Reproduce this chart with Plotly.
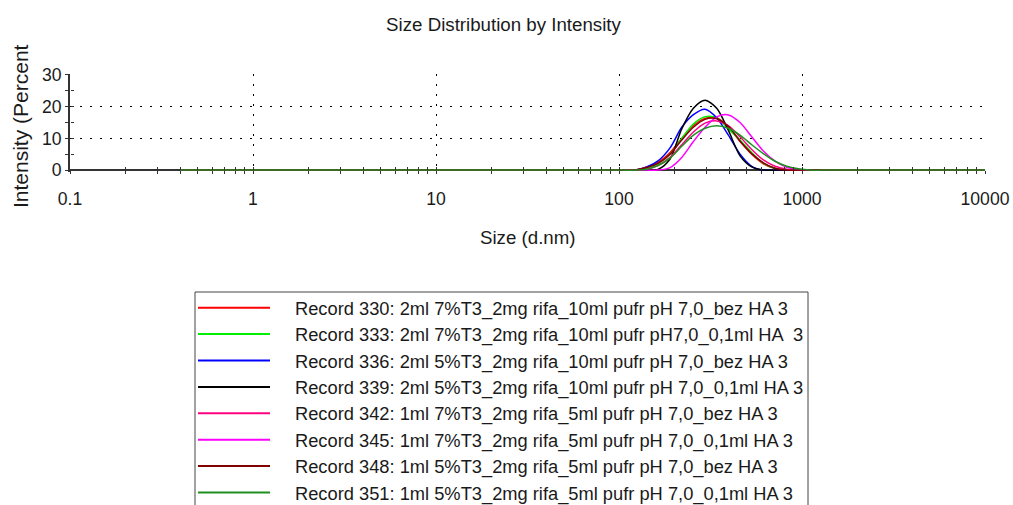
import plotly.graph_objects as go

# Size classes (d.nm) and intensity distributions (%) for each record
sizes = [0.4, 91.28, 105.7, 122.4, 141.8, 164.2, 190.1, 220.2, 255.0, 295.3,
         342.0, 396.1, 458.7, 531.2, 615.1, 712.4, 825.0, 955.4, 1106, 1281, 10000]

rec_330 = [0, 0, 0, 0, 1.0, 2.5, 5.5, 10.0, 14.0, 16.3, 16.5, 13.5, 9.0, 5.0, 2.0, 0.5, 0, 0, 0, 0, 0]
rec_333 = [0, 0, 0, 0, 0.6, 2.0, 5.0, 10.0, 14.5, 16.8, 16.5, 13.0, 9.5, 5.5, 2.2, 0.5, 0, 0, 0, 0, 0]
rec_336 = [0, 0, 0, 0, 1.0, 3.0, 7.0, 13.5, 17.5, 19.2, 16.5, 11.0, 5.0, 1.2, 0, 0, 0, 0, 0, 0, 0]
rec_339 = [0, 0, 0, 0, 0, 0.3, 3.5, 13.0, 19.5, 22.0, 19.5, 12.5, 4.5, 1.0, 0, 0, 0, 0, 0, 0, 0]
rec_342 = [0, 0, 0, 0, 0.3, 1.5, 4.0, 8.0, 12.0, 14.8, 15.5, 14.0, 10.5, 6.5, 3.2, 1.2, 0.3, 0, 0, 0, 0]
rec_345 = [0, 0, 0, 0, 0, 0, 0.8, 4.0, 9.0, 13.5, 16.8, 17.4, 15.0, 10.5, 6.0, 2.8, 0.9, 0.2, 0, 0, 0]
rec_348 = [0, 0, 0, 0, 0.8, 2.2, 5.0, 9.5, 13.5, 16.0, 16.2, 13.8, 9.2, 5.2, 2.3, 0.6, 0, 0, 0, 0, 0]
rec_351 = [0, 0, 0, 0, 0.3, 1.5, 3.8, 7.5, 11.0, 13.2, 14.0, 13.2, 11.0, 8.0, 5.2, 2.8, 1.2, 0.4, 0, 0, 0]

record_names = [
    "Record 330: 2ml 7%T3_2mg rifa_10ml pufr pH 7,0_bez HA 3",
    "Record 333: 2ml 7%T3_2mg rifa_10ml pufr pH7,0_0,1ml HA  3",
    "Record 336: 2ml 5%T3_2mg rifa_10ml pufr pH 7,0_bez HA 3",
    "Record 339: 2ml 5%T3_2mg rifa_10ml pufr pH 7,0_0,1ml HA 3",
    "Record 342: 1ml 7%T3_2mg rifa_5ml pufr pH 7,0_bez HA 3",
    "Record 345: 1ml 7%T3_2mg rifa_5ml pufr pH 7,0_0,1ml HA 3",
    "Record 348: 1ml 5%T3_2mg rifa_5ml pufr pH 7,0_bez HA 3",
    "Record 351: 1ml 5%T3_2mg rifa_5ml pufr pH 7,0_0,1ml HA 3",
]
record_values = [rec_330, rec_333, rec_336, rec_339, rec_342, rec_345, rec_348, rec_351]
record_colors = ["#ff0000", "#00ee00", "#0000ff", "#000000",
                 "#ff0080", "#ff00ff", "#800000", "#1f8f1f"]

x_tick_vals = [0.1, 1, 10, 100, 1000, 10000]
x_tick_text = ["0.1", "1", "10", "100", "1000", "10000"]
x_minor_vals = [m * d for d in (0.1, 1, 10, 100, 1000) for m in range(2, 10)]
y_tick_vals = [0, 10, 20, 30]
y_minor_vals = [5, 15, 25]

# Page geometry (pixels)
W, H = 1013, 505
L, R, T, B = 70, 28, 74, 333
PW, PH = W - L - R, H - T - B
Y_RANGE = [-0.6, 30.3]
X_RANGE = [-1, 4]


def px_x(px):
    return (px - L) / PW


def px_y(py):
    return (T + PH - py) / PH


zero_pos = (0 - Y_RANGE[0]) / (Y_RANGE[1] - Y_RANGE[0])

FONT = "Liberation Sans, Arial, sans-serif"
TXT = "#1a1a1a"
AX = "#333333"
TEXT_SIZE = 18.7
LEGEND_SIZE = 18.3
TICK_SIZE = 17.6

fig = go.Figure()
for name, vals, col in zip(record_names, record_values, record_colors):
    fig.add_trace(go.Scatter(
        x=sizes, y=vals, mode="lines", name=name,
        line=dict(color=col, width=1.5, shape="spline", smoothing=0.8),
        showlegend=False, hoverinfo="x+y+name",
    ))

# companion axes carrying the inward half of the crossing ticks
fig.add_trace(go.Scatter(x=[], y=[], xaxis="x2", yaxis="y2", showlegend=False))

grid = dict(showgrid=True, gridcolor="#000000", gridwidth=1.3, griddash="2px,8px")

fig.update_layout(
    width=W, height=H,
    margin=dict(l=L, r=R, t=T, b=B, autoexpand=False),
    paper_bgcolor="white", plot_bgcolor="white",
    font=dict(family=FONT, size=TEXT_SIZE, color=TXT),
    title=dict(text="Size Distribution by Intensity", x=0.497, xanchor="center",
               y=1 - 24 / H, yanchor="middle", yref="container",
               font=dict(family=FONT, size=TEXT_SIZE, color=TXT)),
    xaxis=dict(type="log", range=X_RANGE, anchor="free", position=zero_pos,
               automargin=False,
               tickmode="array", tickvals=x_tick_vals, ticktext=x_tick_text,
               ticks="outside", ticklen=3, tickwidth=1, tickcolor=AX,
               minor=dict(tickmode="array", tickvals=x_minor_vals, ticks="outside",
                          ticklen=3, tickwidth=1, tickcolor=AX, showgrid=False),
               showline=True, linecolor=AX, linewidth=2, layer="below traces",
               ticklabelstandoff=10, tickfont=dict(size=TICK_SIZE, color=TXT),
               zeroline=False, **grid),
    yaxis=dict(range=Y_RANGE, tickmode="array", tickvals=y_tick_vals,
               automargin=False,
               ticks="outside", ticklen=3, tickwidth=1, tickcolor=AX,
               minor=dict(tickmode="array", tickvals=y_minor_vals, ticks="outside",
                          ticklen=3, tickwidth=1, tickcolor=AX, showgrid=False),
               showline=True, linecolor=AX, linewidth=2, zeroline=False,
               tickfont=dict(size=TICK_SIZE, color=TXT), **grid),
    xaxis2=dict(type="log", range=X_RANGE, overlaying="x", anchor="free",
                position=zero_pos, automargin=False, tickmode="array",
                tickvals=x_tick_vals + x_minor_vals, ticks="inside", ticklen=3,
                tickwidth=1, tickcolor=AX, showticklabels=False, showgrid=False,
                showline=False, zeroline=False),
    yaxis2=dict(range=Y_RANGE, overlaying="y", anchor="free", position=0,
                automargin=False,
                tickmode="array", tickvals=[0, 5, 10, 15, 20, 25, 30],
                ticks="inside", ticklen=3, tickwidth=1, tickcolor=AX,
                showticklabels=False, showgrid=False, showline=False, zeroline=False),
    showlegend=False,
)

annotations = [
    dict(text="Size (d.nm)", x=px_x(528), y=px_y(237), xref="paper", yref="paper",
         xanchor="center", yanchor="middle", showarrow=False,
         font=dict(family=FONT, size=TEXT_SIZE, color=TXT)),
    dict(text="Intensity (Percent", x=px_x(20), y=px_y(126), xref="paper", yref="paper",
         xanchor="center", yanchor="middle", textangle=-90, showarrow=False,
         font=dict(family=FONT, size=21, color=TXT)),
]

# legend box with line samples and record labels
shapes = [dict(type="rect", xref="paper", yref="paper",
               x0=px_x(195), x1=px_x(808), y0=px_y(292), y1=px_y(520),
               line=dict(color="#444444", width=1), fillcolor="white", layer="above")]
row0, row_step = 307.7, 26.4
for i, (name, col) in enumerate(zip(record_names, record_colors)):
    yy = row0 + i * row_step
    shapes.append(dict(type="line", xref="paper", yref="paper",
                       x0=px_x(198), x1=px_x(270), y0=px_y(yy), y1=px_y(yy),
                       line=dict(color=col, width=2), layer="above"))
    annotations.append(dict(text=name, x=px_x(293), y=px_y(yy + 1), xref="paper",
                            yref="paper", xanchor="left", yanchor="middle",
                            showarrow=False,
                            font=dict(family=FONT, size=LEGEND_SIZE, color=TXT)))

fig.update_layout(shapes=shapes, annotations=annotations)
fig.write_html("out.html")
